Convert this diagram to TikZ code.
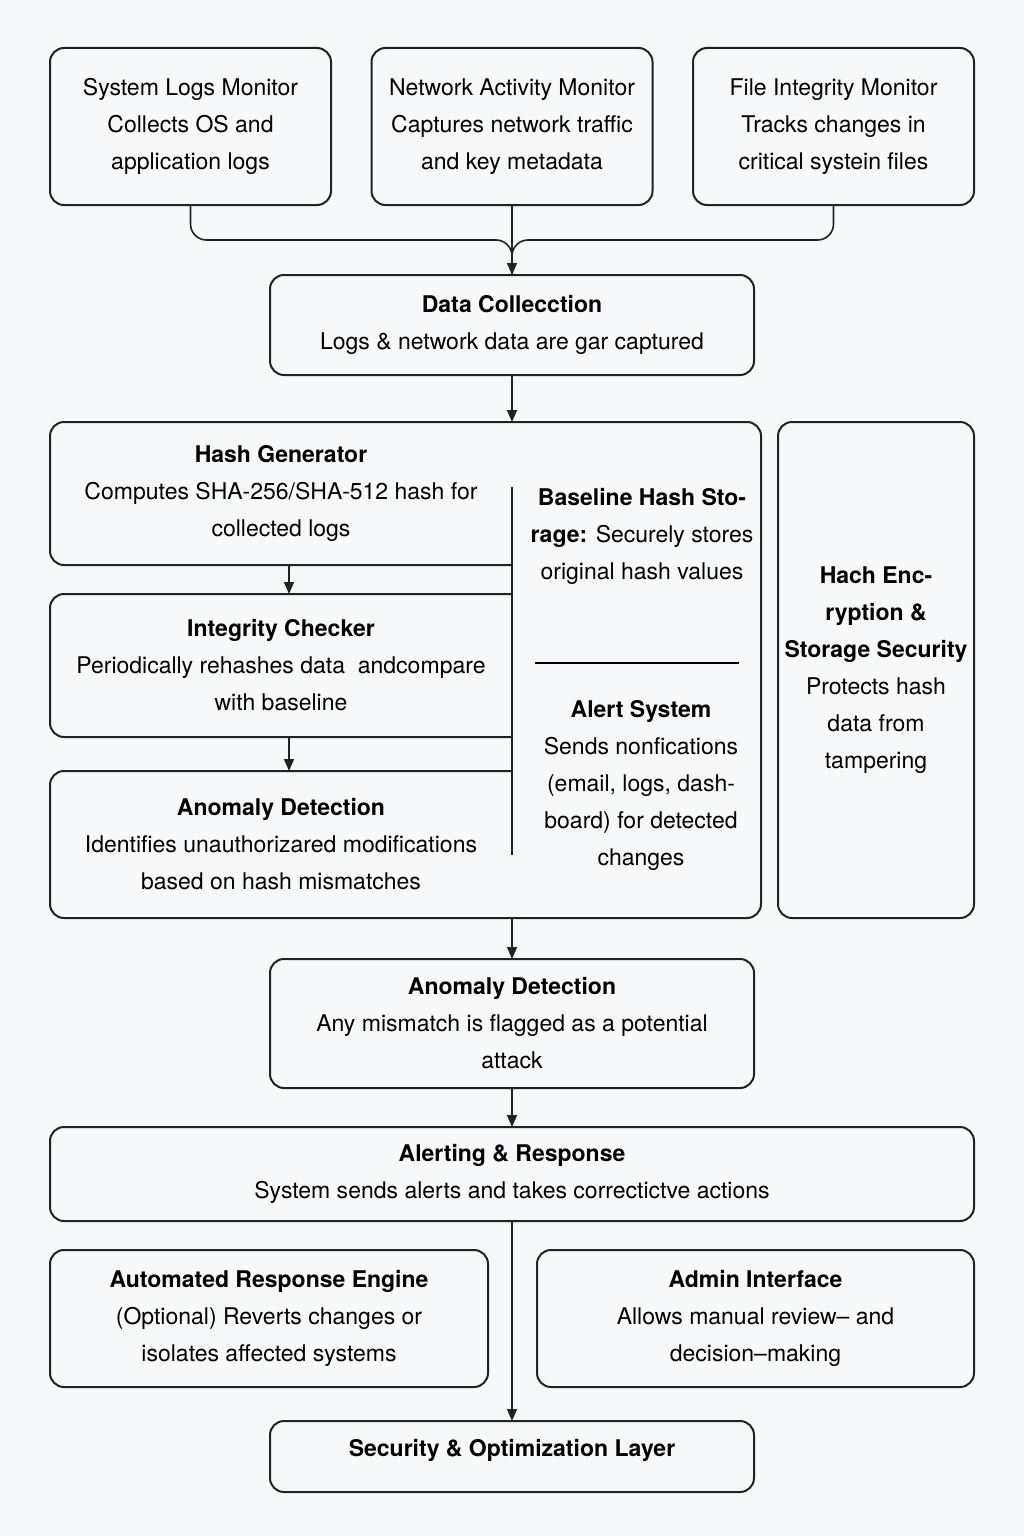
\documentclass[tikz,border=0pt]{standalone}
\usepackage{fontspec}
\setmainfont{TeX Gyre Heros}
\usepackage{tikz}
\usetikzlibrary{positioning, arrows.meta, calc}
\definecolor{pagebg}{RGB}{247,248,250}
\definecolor{inkgray}{RGB}{34,34,34}
\tikzset{
	flowbox/.style={draw=inkgray, line width=1pt, rounded corners=7pt, inner sep=0pt, outer sep=0pt, align=center, font=\fontsize{11.5}{18.5}\selectfont}
}
\tikzset{
	bodytext/.style={align=center, inner sep=0pt, font=\fontsize{11.5}{18.5}\selectfont}
}
\tikzset{
	flowarrow/.style={draw=inkgray, line width=0.8pt, -{Triangle[length=6pt,width=5pt]}}
}
\tikzset{
	flowline/.style={draw=inkgray, line width=0.8pt}
}
\newcommand{\ttl}[1]{\textbf{#1}}

\begin{document}
\begin{tikzpicture}[x=0.5pt, y=-0.5pt]
      \fill[pagebg] (0,0) rectangle (1024,1536);
      \useasboundingbox (0,0) rectangle (1024,1536);
      % monitors
      \foreach \x/\name/\la/\lb/\lc in {190.5/sysmon/System Logs Monitor/Collects OS and/application logs, 512/netmon/Network Activity Monitor/Captures network traffic/and key metadata, 833.5/filemon/File Integrity Monitor/Tracks changes in/critical systein files} {
        \node[flowbox, minimum width=140.5pt, minimum height=78.5pt] (\name) at (\x,126.5) {\la\\\lb\\\lc};
      }
      \node[flowbox, minimum width=242pt, minimum height=50pt] (datacol) at (512,325) {\ttl{Data Collecction}\\Logs \& network data are gar captured};
      \coordinate (merge) at (512,240);
      \draw[flowline, rounded corners=8pt] (sysmon.south) |- (merge) -- (datacol.north);
      \draw[flowline, rounded corners=8pt] (filemon.south) |- (merge) -- (datacol.north);
      \draw[flowarrow] (netmon.south) -- (datacol.north);
      % core block
      \node[minimum width=355.5pt, minimum height=248pt, inner sep=0pt, outer sep=0pt] (core) at (405.5,670) {};
      \node[flowbox, draw=none, minimum width=231pt, minimum height=71.5pt] (hashgen) at (281,493.5) {\ttl{Hash Generator}\\Computes SHA-256/SHA-512 hash for\\collected logs};
      \node[flowbox, draw=none, minimum width=231pt, minimum height=71.5pt] (intcheck) at (281,665.5) {\ttl{Integrity Checker}\\Periodically rehashes data\ \ andcompare\\with baseline};
      \node[flowbox, draw=none, minimum width=231pt, minimum height=73.5pt] (anomaly) at (281,844.5) {\ttl{Anomaly Detection}\\Identifies unauthorizared modifications\\based on hash mismatches};
      \draw[inkgray, line width=1pt, rounded corners=7pt] (hashgen.south east) -- (hashgen.south west) -- (hashgen.north west) -- (core.north east) -- (core.south east) -- (anomaly.south west) -- (anomaly.north west) -- (anomaly.north east);
      \draw[inkgray, line width=1pt, rounded corners=7pt] (intcheck.north east) -- (intcheck.north west) -- (intcheck.south west) -- (intcheck.south east);
      \coordinate (splittop) at (512,487);
      \coordinate (splitbot) at (512,855);
      \draw[flowline] (splittop) -- (splitbot);
      \draw[black, line width=1.3pt] (535,663) -- (739,663);
      \draw[flowarrow] ([xshift=4pt]hashgen.south) -- ([xshift=4pt]intcheck.north);
      \draw[flowarrow] ([xshift=4pt]intcheck.south) -- ([xshift=4pt]anomaly.north);
      \node[bodytext] (basestore) at (642,536) {\ttl{Baseline Hash Sto-}\\\ttl{rage:} Securely stores\\original hash values};
      \node[bodytext] (alertsys) at (641,785) {\ttl{Alert System}\\Sends nonfications\\(email, logs, dash-\\board) for detected\\changes};
      \node[flowbox, minimum width=98pt, minimum height=248pt] (encrypt) at (876,670) {\ttl{Hach Enc-}\\\ttl{ryption \&}\\\ttl{Storage Security}\\Protects hash\\data from\\tampering};
      \draw[flowarrow] (datacol.south) -- (datacol.south |- core.north);
      % lower flow
      \node[flowbox, minimum width=242pt, minimum height=64.5pt] (flagged) at (512,1023.5) {\ttl{Anomaly Detection}\\Any mismatch is flagged as a potential\\attack};
      \draw[flowarrow] (anomaly.south east) -- (flagged.north);
      \node[flowbox, minimum width=462pt, minimum height=47pt] (alerting) at (512,1174) {\ttl{Alerting \& Response}\\System sends alerts and takes correctictve actions};
      \draw[flowarrow] (flagged.south) -- (alerting.north);
      \node[flowbox, minimum width=219pt, minimum height=68.5pt] (autoresp) at (269,1318.5) {\ttl{Automated Response Engine}\\(Optional) Reverts changes or\\isolates affected systems};
      \node[flowbox, minimum width=218.5pt, minimum height=68.5pt] (admin) at (755.5,1318.5) {\ttl{Admin Interface}\\Allows manual review-- and\\decision--making};
      \node[flowbox, minimum width=242pt, minimum height=35.5pt] (seclayer) at (512,1456.5) {};
      \node[bodytext] (seclabel) at (512,1450) {\ttl{Security \& Optimization Layer}};
      \draw[flowarrow] (alerting.south) -- (seclayer.north);
    \end{tikzpicture}
\end{document}
